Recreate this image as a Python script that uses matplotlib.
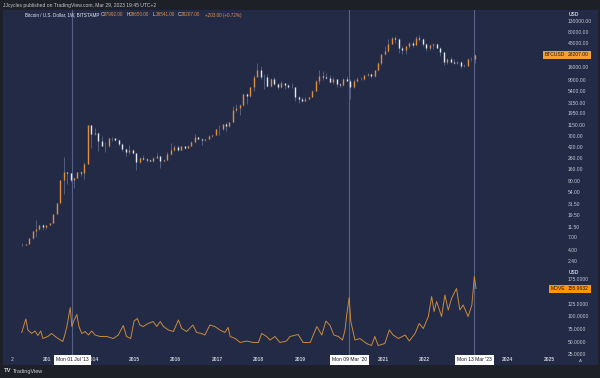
import numpy as np
import matplotlib
matplotlib.use("Agg")
import matplotlib.pyplot as plt
from matplotlib.patches import Rectangle
from matplotlib.ticker import NullLocator

plt.rcParams['font.family'] = ['Liberation Sans', 'DejaVu Sans']

# BTCUSD monthly candles, Apr 2012 .. Mar 2023
btc_start = (2012, 4)
btc_first_open = 4.9
btc_close = [
    5.0, 5.1, 6.7, 9.3, 10.2, 12.4, 11.2, 12.6, 13.5,
    20.4, 33.4, 93, 139, 129, 97, 106, 135, 133, 198, 1130, 754,
    800, 550, 450, 445, 630, 640, 585, 480, 385, 338, 378, 320,
    217, 254, 244, 236, 230, 263, 284, 230, 236, 314, 377, 430,
    368, 437, 416, 448, 531, 673, 624, 575, 609, 700, 742, 963,
    970, 1190, 1080, 1350, 2300, 2480, 2875, 4700, 4340, 6450, 10000, 13850,
    10220, 10330, 6925, 9240, 7500, 6390, 7730, 7030, 6630, 6370, 4040, 3740,
    3450, 3820, 4100, 5320, 8560, 10820, 10080, 9600, 8300, 9150, 7550, 7200,
    9350, 8600, 6420, 8630, 9450, 9140, 11350, 11650, 10780, 13800, 19700, 28990,
    33100, 45200, 58800, 57700, 37300, 35000, 41500, 47100, 43800, 61300, 57000, 46200,
    38500, 43200, 45500, 37700, 31800, 19900, 23300, 20050, 19400, 20500, 17150, 16550,
    23130, 23150, 28207,
]
btc_high = [
    5.4, 5.2, 6.8, 9.5, 15.4, 12.6, 12.9, 12.6, 13.7,
    20.4, 33.4, 95, 266, 139, 129, 111, 135, 145, 218, 1160, 1150,
    1000, 850, 700, 540, 630, 680, 650, 600, 500, 410, 460, 390,
    320, 270, 300, 260, 250, 270, 320, 285, 245, 335, 500, 465,
    460, 440, 440, 465, 550, 780, 680, 630, 620, 720, 745, 970,
    1160, 1200, 1300, 1350, 2800, 3000, 2950, 4750, 5000, 6450, 11400, 19666,
    17200, 11800, 11700, 9800, 10000, 7800, 8500, 7800, 7400, 7700, 6600, 4400,
    4100, 4200, 4150, 5600, 9000, 13880, 13200, 12300, 10950, 10400, 9500, 7750,
    9600, 10500, 9200, 9500, 10070, 10400, 11450, 12470, 12100, 14100, 19850, 29300,
    41950, 58350, 61800, 64900, 59500, 41300, 42300, 50500, 52900, 67000, 69000, 59000,
    48000, 45800, 48200, 47400, 40000, 31900, 24600, 25200, 22800, 21100, 21500, 18400,
    23900, 25250, 28650,
]
btc_low = [
    4.7, 4.9, 5.2, 6.5, 7.0, 9.9, 9.8, 10.3, 12.5,
    13.3, 19.9, 33, 50, 80, 88, 65, 102, 115, 100, 195, 400,
    750, 360, 440, 340, 430, 550, 560, 450, 360, 280, 310, 310,
    152, 207, 235, 215, 225, 220, 255, 162, 225, 235, 300, 350,
    350, 365, 395, 410, 440, 530, 605, 470, 570, 605, 680, 740,
    750, 920, 900, 1060, 1330, 2100, 1850, 2700, 2950, 4100, 5500, 10800,
    9200, 5900, 6600, 6450, 7000, 5800, 6100, 5880, 6100, 6200, 3500, 3150,
    3350, 3400, 3700, 4050, 5300, 7500, 9050, 9350, 7700, 7300, 6500, 6400,
    6850, 8400, 3850, 6150, 8100, 8900, 8970, 10550, 9850, 10400, 13200, 17650,
    28100, 32300, 45000, 47000, 30000, 28800, 29300, 37600, 39600, 43300, 53300, 42000,
    32900, 34300, 37200, 37600, 26700, 17600, 18800, 19600, 18150, 18200, 15500, 16300,
    16500, 21400, 19550,
]

# MOVE index (decimal year, value)
move_dates = [
    2012.28, 2012.38, 2012.43, 2012.52, 2012.60, 2012.67, 2012.74, 2012.79, 2012.91, 2013.00,
    2013.12, 2013.27, 2013.32, 2013.37, 2013.45, 2013.49, 2013.53, 2013.61, 2013.66, 2013.73,
    2013.81, 2013.89, 2013.97, 2014.05, 2014.17, 2014.33, 2014.49, 2014.61, 2014.73, 2014.81,
    2014.91, 2014.99, 2015.07, 2015.13, 2015.21, 2015.33, 2015.45, 2015.54, 2015.62, 2015.70,
    2015.82, 2015.94, 2016.06, 2016.14, 2016.26, 2016.41, 2016.50, 2016.62, 2016.70, 2016.82,
    2016.94, 2017.06, 2017.18, 2017.26, 2017.31, 2017.43, 2017.55, 2017.71, 2017.87, 2017.99,
    2018.07, 2018.19, 2018.27, 2018.39, 2018.51, 2018.67, 2018.75, 2018.95, 2019.07, 2019.24,
    2019.40, 2019.52, 2019.62, 2019.72, 2019.81, 2019.92, 2020.02, 2020.08, 2020.12, 2020.18,
    2020.22, 2020.32, 2020.44, 2020.60, 2020.72, 2020.80, 2020.88, 2021.04, 2021.15, 2021.24,
    2021.37, 2021.53, 2021.63, 2021.77, 2021.87, 2021.97, 2022.09, 2022.17, 2022.23, 2022.29,
    2022.41, 2022.49, 2022.57, 2022.65, 2022.77, 2022.85, 2022.93, 2023.05, 2023.14, 2023.20,
    2023.24,
]
move_values = [
    68, 95, 73, 66, 71, 62, 71, 56, 60, 66,
    58, 50, 63, 80, 118, 80, 90, 104, 80, 66,
    70, 63, 71, 63, 60, 60, 56, 63, 82, 60,
    56, 91, 96, 83, 80, 86, 90, 80, 90, 80,
    73, 70, 93, 76, 70, 83, 68, 66, 63, 83,
    80, 73, 68, 78, 60, 56, 48, 51, 48, 48,
    66, 60, 53, 60, 48, 51, 60, 64, 48, 48,
    80, 63, 91, 82, 63, 60, 53, 73, 103, 138,
    90, 53, 56, 46, 42, 60, 42, 46, 73, 63,
    56, 63, 51, 66, 86, 76, 100, 140, 110, 130,
    100, 143, 113, 136, 156, 113, 123, 100, 123, 180,
    155.96,
]

# year labels that are not hidden behind the date boxes
year_ticks = [2014, 2015, 2016, 2017, 2018, 2019, 2021, 2022, 2024, 2025]
price_ticks = [2.4, 4, 7, 11.5, 19.5, 31.5, 54, 90, 160, 260, 420, 700, 1150, 1950,
               3150, 5400, 9000, 16000, 48000, 80000, 130000]
move_ticks = [25, 50, 75, 100, 125, 175]

event_dates = [2013.496, 2020.186, 2023.196]
event_labels = ["Mon 01 Jul '13", "Mon 09 Mar '20", "Mon 13 Mar '23"]

NAVY = '#232a46'
DARK = '#1e2027'
TXT = '#c3c7d2'
ORANGE = '#f0a22e'
UP = '#e0903a'
DOWN = '#e4e8f2'
WICK = '#8594bd'
VLINE = '#56618a'
FS = 3.6

W, H = 600, 378
fig = plt.figure(figsize=(6, 3.78), dpi=100)
fig.patch.set_facecolor(DARK)
fig.add_artist(Rectangle((3 / W, 1 - 364 / H), 594 / W, 354 / H,
                         transform=fig.transFigure, color=NAVY, zorder=-1))

ax1 = fig.add_axes([3 / W, 1 - 266 / H, 560 / W, 256 / H])
ax2 = fig.add_axes([3 / W, 1 - 364 / H, 560 / W, 98 / H])
x0 = 2014 - 90 / 41.45
x1 = 2014 + 470 / 41.45
for ax in (ax1, ax2):
    ax.set_facecolor('none')
    for s in ax.spines.values():
        s.set_visible(False)
    ax.set_xlim(x0, x1)
    ax.set_xticks([])
    ax.yaxis.tick_right()
    ax.tick_params(axis='y', length=0, pad=3.6, labelsize=FS, labelcolor=TXT)
    for d in event_dates:
        ax.axvline(d, color=VLINE, lw=0.8, zorder=1)

# candles
n = len(btc_close)
xs = np.array([btc_start[0] + (btc_start[1] - 1 + i + 0.5) / 12 for i in range(n)])
c = np.array(btc_close, dtype=float)
o = np.concatenate([[btc_first_open], c[:-1]])
hi = np.array(btc_high, dtype=float)
lo = np.array(btc_low, dtype=float)
up = c >= o
ax1.vlines(xs, lo, hi, color=WICK, lw=0.4, alpha=0.85, zorder=2)
ax1.vlines(xs[up], o[up], c[up], color=UP, lw=1.0, zorder=3)
ax1.vlines(xs[~up], c[~up], o[~up], color=DOWN, lw=1.0, zorder=3)
ax1.set_yscale('log')
ax1.set_ylim(10 ** 0.282, 10 ** 5.331)
ax1.yaxis.set_minor_locator(NullLocator())
ax1.set_yticks(price_ticks)
ax1.set_yticklabels(['%.2f' % v for v in price_ticks])

ax2.plot(move_dates, move_values, color='#c98a3c', lw=0.7, zorder=3)
ax2.set_ylim(5, 201)
ax2.set_yticks(move_ticks)
ax2.set_yticklabels(['%.4f' % v for v in move_ticks])

# year labels along the bottom
tr = ax2.get_xaxis_transform()
ax2.text(2012.05, 0.041, '2', transform=tr, ha='center', va='center', fontsize=FS, color=TXT)
ax2.text(2013.0, 0.041, '201', transform=tr, ha='right', va='center', fontsize=FS,
         color=TXT, fontweight='bold')
for y in year_ticks:
    ax2.text(y, 0.041, str(y), transform=tr, ha='center', va='center',
             fontsize=FS, color=TXT, fontweight='bold')
for d, lab in zip(event_dates, event_labels):
    ax2.text(d, 0.041, lab, transform=tr, ha='center', va='center', fontsize=FS,
             color='#131722', zorder=5,
             bbox=dict(boxstyle='square,pad=0.45', fc='white', ec='none'))

# right-side labels
fig.text(569 / W, 1 - 14 / H, 'USD', fontsize=FS, color=TXT, fontweight='bold', va='center')
fig.text(569 / W, 1 - 272 / H, 'USD', fontsize=FS, color=TXT, fontweight='bold', va='center')
fig.text(565 / W, 1 - 55 / H, 'BTCUSD', fontsize=FS, color='#131722', va='center', ha='right',
         bbox=dict(boxstyle='square,pad=0.35', fc=ORANGE, ec='none'))
fig.text(568 / W, 1 - 55 / H, '28207.00', fontsize=FS, color='#131722', va='center',
         bbox=dict(boxstyle='square,pad=0.35', fc=ORANGE, ec='none'))
fig.text(565 / W, 1 - 289 / H, 'MOVE', fontsize=FS, color='#131722', va='center', ha='right',
         bbox=dict(boxstyle='square,pad=0.35', fc='#ff9800', ec='none'))
fig.text(568 / W, 1 - 289 / H, '155.9632', fontsize=FS, color='#131722', va='center',
         bbox=dict(boxstyle='square,pad=0.35', fc='#ff9800', ec='none'))
fig.text(580 / W, 1 - 361 / H, 'A', fontsize=FS - 0.4, color=TXT, ha='center', va='center')

# header
fig.text(3 / W, 1 - 5 / H, 'JJcycles published on TradingView.com, Mar 29, 2023 19:45 UTC+2',
         fontsize=FS, color=TXT, va='center')
LIGHT = '#e6e8ee'
HFS = 3.3
header_pieces = ['Bitcoin / U.S. Dollar, 1W, BITSTAMP', 'O', '27992.00', 'H', '28650.00',
                 'L', '26541.00', 'C', '28207.00', '+203.00 (+0.72%)']
header_colors = [LIGHT, LIGHT, UP, LIGHT, UP, LIGHT, UP, LIGHT, UP, UP]
header_x = [25, 101, 104, 127, 130, 153, 156, 178, 181, 205]
for s, col, xp in zip(header_pieces, header_colors, header_x):
    fig.text(xp / W, 1 - 15 / H, s, fontsize=HFS, color=col, va='center')

# footer logo
fig.text(4 / W, 1 - 371 / H, 'TV', fontsize=4.2, color='#d1d4dc', fontweight='heavy', va='center')
fig.text(13 / W, 1 - 371 / H, 'TradingView', fontsize=FS + 0.4, color='#d1d4dc', va='center')

fig.savefig('out.png', dpi=100, facecolor=fig.get_facecolor())
